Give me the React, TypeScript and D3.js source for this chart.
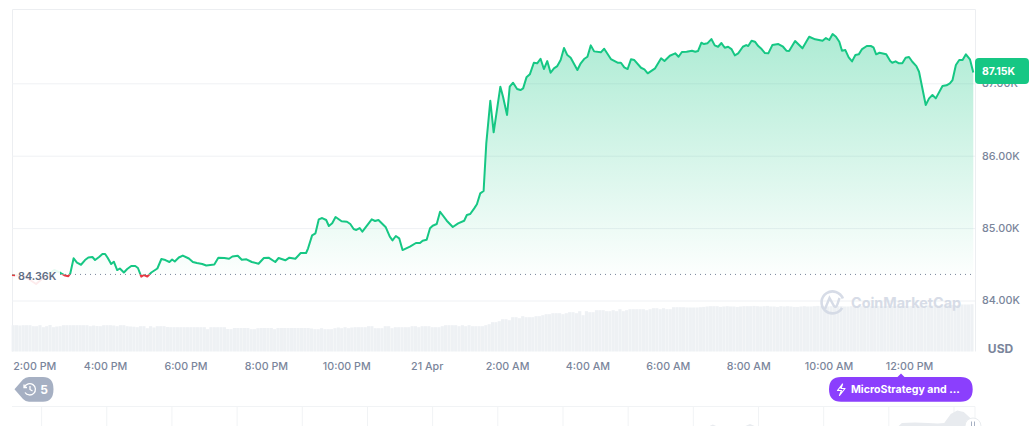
import * as d3 from "d3";
import { useEffect, useRef } from "react";

const width = 1033;
const height = 426;
const font = "Inter, 'Noto Sans', sans-serif";

const green = "#16c784";
const red = "#ea3943";

// Minutes after 2:00 PM
const minutes = [
  -19, -1, 17, 29, 44, 53, 59, 65, 68, 73, 78, 84, 90, 95, 101, 105, 111, 116, 120, 124, 129, 133, 138, 142, 148, 153,
  159, 165, 169, 174, 178, 183, 189, 198, 204, 210, 216, 220, 224, 230, 236, 245, 251, 257, 265, 271, 283, 289, 298,
  305, 310, 318, 324, 331, 339, 349, 357, 364, 374, 379, 389, 395, 404, 412, 420, 423, 429, 434, 439, 444, 450, 454,
  459, 464, 473, 481, 486, 491, 495, 500, 504, 518, 523, 528, 539, 545, 549, 554, 559, 564, 575, 584, 590, 594, 600,
  605, 609, 615, 620, 630, 639, 647, 656, 660, 665, 671, 675, 680, 685, 689, 695, 700, 710, 714, 720, 724, 729, 735,
  740, 744, 749, 754, 760, 765, 770, 775, 780, 785, 790, 795, 800, 805, 810, 815, 825, 830, 835, 840, 845, 850, 860,
  865, 875, 885, 890, 895, 900, 905, 910, 920, 925, 930, 941, 950, 955, 963, 971, 976, 981, 988, 996, 1001, 1005, 1010,
  1014, 1019, 1025, 1030, 1035, 1040, 1045, 1050, 1055, 1060, 1065, 1072, 1077, 1080, 1085, 1090, 1095, 1100, 1105,
  1110, 1116, 1125, 1132, 1137, 1141, 1150, 1161, 1171, 1180, 1191, 1196, 1201, 1206, 1211, 1216, 1220, 1225, 1230,
  1235, 1240, 1245, 1250, 1257, 1263, 1267, 1271, 1276, 1286, 1292, 1295, 1300, 1305, 1310, 1315, 1320, 1325, 1331,
  1335, 1345, 1350, 1355, 1360, 1370, 1376, 1381, 1385, 1390, 1395, 1400, 1405, 1411, 1416,
];

// Price in USD at each of those minutes
const prices = [
  84352, 84338, 84228, 84325, 84421, 84383, 84350, 84335, 84373, 84583, 84522, 84494, 84559, 84594, 84601, 84559,
  84601, 84642, 84642, 84587, 84504, 84536, 84421, 84442, 84387, 84435, 84476, 84476, 84449, 84329, 84352, 84331,
  84387, 84442, 84573, 84559, 84532, 84566, 84539, 84594, 84621, 84580, 84532, 84518, 84504, 84483, 84497, 84591,
  84587, 84577, 84608, 84619, 84563, 84569, 84532, 84508, 84587, 84591, 84532, 84587, 84555, 84591, 84577, 84656,
  84656, 84721, 84900, 84928, 85121, 85139, 85112, 85029, 85066, 85153, 85094, 85088, 85056, 84987, 84974, 85001,
  84950, 85121, 85098, 85112, 85011, 84881, 84831, 84891, 84859, 84697, 84743, 84794, 84794, 84826, 84840, 84997,
  85033, 85056, 85226, 85102, 85015, 85066, 85102, 85181, 85195, 85273, 85329, 85480, 85512, 86171, 86759, 86323,
  86953, 86814, 86562, 86953, 87008, 86921, 86907, 86930, 87082, 87124, 87284, 87276, 87339, 87197, 87307, 87146,
  87207, 87238, 87321, 87487, 87390, 87353, 87183, 87276, 87335, 87367, 87524, 87441, 87428, 87477, 87335, 87284,
  87284, 87220, 87197, 87331, 87321, 87215, 87193, 87138, 87207, 87345, 87307, 87381, 87414, 87367, 87432, 87436,
  87450, 87436, 87446, 87560, 87542, 87552, 87611, 87524, 87505, 87556, 87491, 87505, 87473, 87386, 87414, 87505,
  87528, 87515, 87588, 87574, 87515, 87473, 87418, 87414, 87528, 87542, 87505, 87450, 87446, 87584, 87483, 87643,
  87607, 87588, 87625, 87598, 87680, 87643, 87574, 87450, 87459, 87359, 87303, 87390, 87400, 87473, 87515, 87515,
  87497, 87400, 87422, 87400, 87307, 87284, 87303, 87276, 87276, 87353, 87363, 87298, 87238, 87160, 86700, 86792,
  86838, 86792, 86962, 86972, 87000, 87045, 87252, 87321, 87321, 87400, 87331, 87150,
];

const basePrice = 84360;
const priceTicks = [84000, 85000, 86000, 87000];
const priceTickLabels = ["84.00K", "85.00K", "86.00K", "87.00K"];

const timeTicks = [0, 120, 240, 360, 480, 600, 720, 840, 960, 1080, 1200, 1320];
const timeLabels = [
  "2:00 PM", "4:00 PM", "6:00 PM", "8:00 PM", "10:00 PM", "21 Apr",
  "2:00 AM", "4:00 AM", "6:00 AM", "8:00 AM", "10:00 AM", "12:00 PM",
];

// Volume bars, in billions USD
const volumes = [
  26.3, 26.3, 26, 26.3, 26.3, 26.3, 25.3, 25.3, 26.3, 24.3, 25.3, 26.5, 24.3, 25, 25.3, 26.3, 26.3, 26.3, 26.3, 26.3,
  26.3, 26.3, 26.3, 25.3, 26, 25.5, 25.3, 26.3, 26.3, 26.3, 26, 25.3, 26.3, 26.3, 25.3, 25, 24.8, 24.3, 25.3, 25.3,
  23.3, 25.3, 24, 25.3, 25.3, 25.3, 24.5, 24.3, 24.3, 24.3, 24.3, 24.3, 24.3, 24.3, 24.3, 24.3, 24.3, 24.3, 22.3, 24.3,
  24.3, 24.3, 24.3, 24.3, 22.5, 22.3, 23.5, 23.5, 23.5, 23.5, 23.5, 22.3, 22.3, 23.3, 23.5, 23.5, 23.5, 23.5, 22.3,
  23.5, 23.5, 23.5, 23.5, 23.5, 23.5, 23.5, 23.5, 23.5, 23.5, 23, 22.3, 22.3, 23.3, 22.3, 22.3, 22.3, 23.3, 24,
  23.3, 24.3, 23.3, 24, 24.3, 24.3, 24.3, 24.3, 25.3, 25.3, 23.3, 23.3, 23.3, 25.3, 25.3, 23.3, 24.3, 24.3, 24.3, 24.3,
  24.3, 25.3, 25.3, 24.3, 25.3, 25.3, 25.3, 24.3, 24.3, 24.3, 25.3, 26.3, 26.3, 26.3, 26.3, 25.3, 26.3, 25.3, 26.3,
  25.3, 25.3, 25.3, 25.3, 26.3, 27.3, 29.3, 29.3, 30.3, 32.3, 32.3, 31.3, 34.3, 34.3, 33.3, 35.3, 34.3, 34.3, 34.3,
  35.3, 35.3, 36.3, 37.3, 37.3, 38.3, 38.3, 38.3, 37.3, 38.3, 39.3, 39.3, 38.3, 40.3, 36.3, 40.3, 39.3, 39.3, 41.3,
  41.3, 41.3, 40.3, 40.3, 41.3, 40.3, 42.3, 40.3, 41.3, 42.3, 42.3, 42.3, 42.3, 42.3, 41.3, 42.3, 43.3, 43.3, 42.3,
  43.3, 42.3, 42.3, 44.3, 44.3,
  44.3, 44.3, 44, 44, 44, 44, 44.3, 44.6, 45, 45.3, 45.3, 45.3, 44.6, 45, 45.3, 45, 45, 44.6, 45, 45.3, 45.3, 45.3,
  45.6, 45.3, 45, 45.3, 45.6, 45, 45, 44.6, 45.3, 45, 45.3, 45, 44.6, 44.6, 45, 45.3, 45, 45, 45.3, 45.6, 45.3, 45, 45,
  45.3, 45, 45.3, 45.3, 45, 45, 45.3, 45.6, 45.6, 45.3, 45, 45.3, 45.3, 45.6, 45.6, 45.3, 45.3, 45.6, 45.6, 45.6, 45.3,
  45.6, 45.6, 45.3, 45.6, 45.6, 46, 46, 45.6, 46, 46, 46.3, 46, 46, 46.3, 46.3, 46.6, 46.3, 46.6, 47, 47, 47, 47.3,
];

// Overview strip below the chart
const overviewTicks = d3.range(15);
const overviewPos = [10.25, 10.3, 10.35, 10.8, 10.87, 10.94, 13.15, 13.2, 13.4, 13.6, 13.75, 13.85, 13.95, 14.05, 14.15, 14.25, 14.3];
const overviewVals = [0, 1.5, 0, 0, 2, 0, 0, 3, 3.5, 3, 2.5, 3, 12, 15.5, 14, 8, 0];

const App = () => {
  const svgRef = useRef<SVGSVGElement>(null);

  useEffect(() => {
    if (!svgRef.current) return;
    const svg = d3.select(svgRef.current);
    svg.selectAll("*").remove();

    const left = 12;
    const right = 975;
    const top = 10;
    const bottom = 351.5;

    const x = d3.scaleLinear().domain([-19, 1416]).range([left, 973.3]);
    const y = d3.scaleLinear().domain([84000, 87000]).range([300.5, 83.3]);
    const yBase = y(basePrice);

    const points = minutes.map((m, i) => [m, prices[i]] as [number, number]);

    const defs = svg.append("defs");
    const grad = defs
      .append("linearGradient")
      .attr("id", "upFill")
      .attr("gradientUnits", "userSpaceOnUse")
      .attr("x1", 0)
      .attr("x2", 0)
      .attr("y1", 34)
      .attr("y2", yBase);
    grad.append("stop").attr("offset", 0).attr("stop-color", green).attr("stop-opacity", 0.35);
    grad.append("stop").attr("offset", 1).attr("stop-color", green).attr("stop-opacity", 0.01);

    defs
      .append("clipPath")
      .attr("id", "above")
      .append("rect")
      .attr("x", 0)
      .attr("y", 0)
      .attr("width", width)
      .attr("height", yBase);
    defs
      .append("clipPath")
      .attr("id", "below")
      .append("rect")
      .attr("x", 0)
      .attr("y", yBase)
      .attr("width", width)
      .attr("height", height - yBase);

    // Frame
    svg
      .append("path")
      .attr("d", `M${left + 0.5},${bottom}V${top - 0.5}H${right + 0.5}V${bottom}`)
      .attr("fill", "none")
      .attr("stroke", "#eceef1");

    // Price axis with its grid lines
    const yAxis = svg
      .append("g")
      .attr("transform", `translate(${right}, 0)`)
      .call(
        d3
          .axisRight(y)
          .tickValues(priceTicks)
          .tickFormat((_, i) => priceTickLabels[i])
          .tickSize(-(right - left))
          .tickPadding(7),
      );
    yAxis.select(".domain").remove();
    yAxis.selectAll(".tick line").attr("stroke", "#eff1f4");
    yAxis
      .selectAll(".tick text")
      .attr("x", 7)
      .attr("fill", "#7a859b")
      .style("font", `500 10.8px ${font}`);

    // Volume bars
    const vx = d3
      .scaleBand<number>()
      .domain(d3.range(volumes.length))
      .range([left - 0.4, 973.5])
      .paddingInner(0.06);
    const vy = d3.scaleLinear().domain([0, 50]).range([bottom, bottom - 50]);
    svg
      .append("g")
      .selectAll("rect")
      .data(volumes)
      .join("rect")
      .attr("x", (_, i) => vx(i) ?? 0)
      .attr("y", d => vy(d))
      .attr("width", vx.bandwidth())
      .attr("height", d => bottom - vy(d))
      .attr("fill", "#eef1f4");

    // Watermark
    const mark = svg.append("g").attr("opacity", 0.9);
    mark
      .append("path")
      .attr("d", "M843.5,304A11,11 0 1 1 841,295")
      .attr("transform", "rotate(20 832 302)")
      .attr("fill", "none")
      .attr("stroke", "#d3d9e5")
      .attr("stroke-width", 2.6);
    mark
      .append("path")
      .attr("d", "M825,309L829.5,298L834,306C835.5,308 837,306 837.5,304L839.5,298")
      .attr("fill", "none")
      .attr("stroke", "#d3d9e5")
      .attr("stroke-width", 2.4);
    mark
      .append("text")
      .attr("x", 851)
      .attr("y", 308)
      .attr("fill", "#d3d9e5")
      .style("font", `700 14.4px ${font}`)
      .text("CoinMarketCap");

    // Price area and line, split at the open price
    const area = d3
      .area<[number, number]>()
      .x(d => x(d[0]))
      .y0(yBase)
      .y1(d => y(d[1]));
    const line = d3
      .line<[number, number]>()
      .x(d => x(d[0]))
      .y(d => y(d[1]));

    svg.append("path").datum(points).attr("d", area).attr("fill", "url(#upFill)").attr("clip-path", "url(#above)");
    svg
      .append("path")
      .datum(points)
      .attr("d", line)
      .attr("fill", "none")
      .attr("stroke", green)
      .attr("stroke-width", 2)
      .attr("stroke-linejoin", "round")
      .attr("clip-path", "url(#above)");
    svg
      .append("path")
      .datum(points)
      .attr("d", line)
      .attr("fill", "none")
      .attr("stroke", red)
      .attr("stroke-width", 2)
      .attr("stroke-linejoin", "round")
      .attr("clip-path", "url(#below)");

    // Open price marker
    svg
      .append("line")
      .attr("x1", 60)
      .attr("x2", right)
      .attr("y1", yBase)
      .attr("y2", yBase)
      .attr("stroke", "#7a859b")
      .attr("stroke-width", 1)
      .attr("stroke-dasharray", "1 4");
    svg
      .append("rect")
      .attr("x", 15)
      .attr("y", 262)
      .attr("width", 45)
      .attr("height", 28)
      .attr("fill", "#fff")
      .attr("opacity", 0.9);
    svg
      .append("text")
      .attr("x", 18)
      .attr("y", 280.2)
      .attr("fill", "#616e85")
      .style("font", `600 10.8px ${font}`)
      .text("84.36K");

    // Current price tag
    svg
      .append("rect")
      .attr("x", 975)
      .attr("y", 58)
      .attr("width", 54)
      .attr("height", 26)
      .attr("rx", 4)
      .attr("fill", green);
    svg
      .append("text")
      .attr("x", 998.5)
      .attr("y", 75)
      .attr("text-anchor", "middle")
      .attr("fill", "#fff")
      .style("font", `700 10.5px ${font}`)
      .text("87.15K");

    // Time axis
    const xAxis = svg
      .append("g")
      .attr("transform", `translate(0, ${bottom})`)
      .call(
        d3
          .axisBottom(x)
          .tickValues(timeTicks)
          .tickFormat((_, i) => timeLabels[i])
          .tickSize(0)
          .tickPadding(10.5),
      );
    xAxis.select(".domain").remove();
    xAxis.selectAll(".tick text").attr("fill", "#7a859b").style("font", `500 10.7px ${font}`);
    xAxis.select(".tick text").attr("dx", 9.5);

    svg
      .append("text")
      .attr("x", 1000.5)
      .attr("y", 353)
      .attr("text-anchor", "middle")
      .attr("fill", "#7a859b")
      .style("font", `700 12px ${font}`)
      .text("USD");

    // History pill
    svg
      .append("path")
      .attr("d", "M14.5,389.3L23,379.5Q25.5,377 29,377H43Q53.5,377 53.5,389.3Q53.5,401.7 43,401.7H29Q25.5,401.7 23,399Z")
      .attr("fill", "#a6b0c3");
    svg
      .append("path")
      .attr("d", "M24.5,387A5.7,5.7 0 1 1 25,392.5M24,384.5V387.5H27M30,386V389.5L32.5,391")
      .attr("fill", "none")
      .attr("stroke", "#fff")
      .attr("stroke-width", 1.3);
    svg
      .append("text")
      .attr("x", 44)
      .attr("y", 393.7)
      .attr("text-anchor", "middle")
      .attr("fill", "#fff")
      .style("font", `700 12px ${font}`)
      .text("5");

    // News pill
    svg
      .append("path")
      .attr("d", "M841,377H897.5L901,373.5L904.5,377H960.5Q972.7,377 972.7,389.3Q972.7,401.7 960.5,401.7H841Q829,401.7 829,389.3Q829,377 841,377Z")
      .attr("fill", "#8b3ffd");
    svg
      .append("path")
      .attr("d", "M842.5,384L837.5,390.5H841.5L839.5,395.5L845,388.5H841Z")
      .attr("fill", "none")
      .attr("stroke", "#fff")
      .attr("stroke-width", 1.2)
      .attr("stroke-linejoin", "round");
    svg
      .append("text")
      .attr("x", 851)
      .attr("y", 393.2)
      .attr("fill", "#fff")
      .style("font", `700 10.6px ${font}`)
      .text("MicroStrategy and ...");

    // Overview strip
    const ox = d3.scaleLinear().domain([0, 14]).range([41.6, 954]);
    const oy = d3.scaleLinear().domain([0, 20]).range([height, height - 20]);
    svg
      .append("path")
      .attr("d", `M${left},406.5H${right}V${height}`)
      .attr("fill", "none")
      .attr("stroke", "#f1f3f5");
    svg
      .append("g")
      .selectAll("line")
      .data(overviewTicks)
      .join("line")
      .attr("x1", d => ox(d))
      .attr("x2", d => ox(d))
      .attr("y1", 406)
      .attr("y2", height)
      .attr("stroke", "#f1f3f5");
    svg
      .append("path")
      .datum(overviewVals)
      .attr(
        "d",
        d3
          .area<number>()
          .x((_, i) => ox(overviewPos[i]))
          .y0(height)
          .y1(d => oy(d)),
      )
      .attr("fill", "#e8ebef");
    svg
      .append("circle")
      .attr("cx", 973)
      .attr("cy", 426)
      .attr("r", 8)
      .attr("fill", "#fff")
      .attr("stroke", "#e9ecef");
    svg
      .append("path")
      .attr("d", "M971.5,421.5V426M974.5,421.5V426")
      .attr("stroke", "#a6b0c3")
      .attr("stroke-width", 1);
  }, []);

  return (
    <svg
      ref={svgRef}
      width={width}
      height={height}
      role="presentation"
      style={{ position: "absolute", left: 0, top: 0, background: "#fff" }}
    ></svg>
  );
};

export default App;
